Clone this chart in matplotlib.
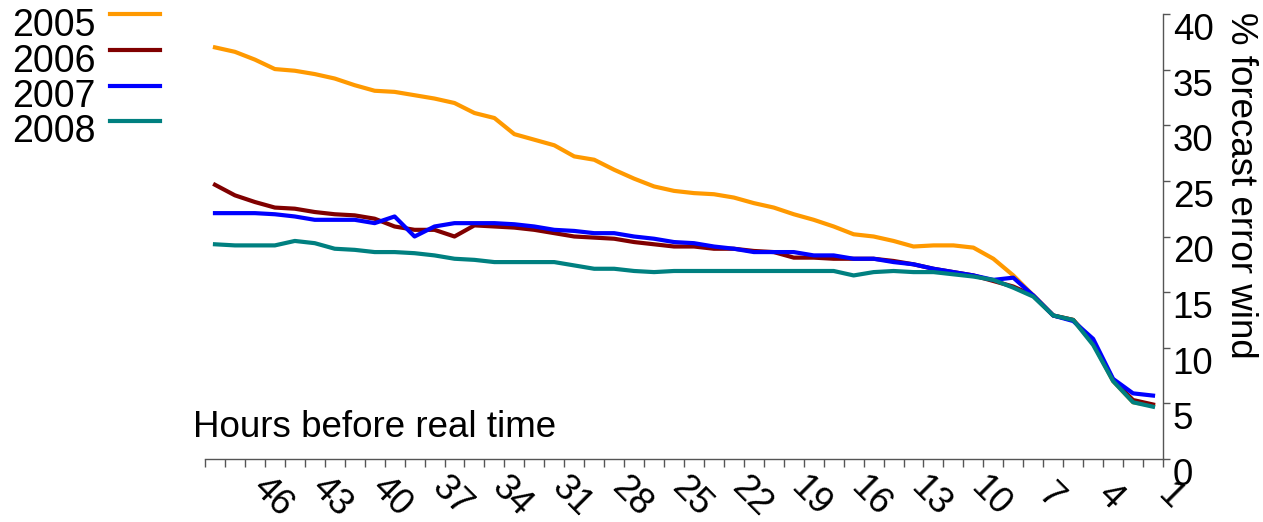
import numpy as np
import matplotlib.pyplot as plt
import matplotlib.transforms as mtransforms
from matplotlib.lines import Line2D

plt.rcParams['font.family'] = ['Liberation Sans', 'DejaVu Sans']

# hours before real time, left to right
hours = list(range(48, 0, -1))
label_hours = list(range(46, 0, -3))

err_2005 = [37.0, 36.6, 35.9, 35.05, 34.9, 34.6, 34.2, 33.6, 33.1, 33.0,
            32.7, 32.4, 32.0, 31.1, 30.65, 29.2, 28.7, 28.2, 27.2, 26.9,
            26.0, 25.2, 24.5, 24.1, 23.9, 23.8, 23.5, 23.0, 22.6, 22.0,
            21.5, 20.9, 20.2, 20.0, 19.6, 19.1, 19.2, 19.2, 19.0, 18.0,
            16.5, 14.7, 12.9, 12.5, 10.4, 7.0, 5.1, 4.8]
err_2006 = [24.65, 23.7, 23.1, 22.6, 22.5, 22.2, 22.0, 21.9, 21.6, 20.9,
            20.6, 20.6, 20.0, 21.0, 20.9, 20.8, 20.6, 20.3, 20.0, 19.9,
            19.8, 19.5, 19.3, 19.1, 19.1, 18.9, 18.9, 18.7, 18.6, 18.1,
            18.1, 18.0, 18.0, 18.0, 17.8, 17.5, 17.1, 16.8, 16.5, 16.0,
            15.5, 14.7, 12.9, 12.5, 10.5, 7.1, 5.3, 4.9]
err_2007 = [22.1, 22.1, 22.1, 22.0, 21.8, 21.5, 21.5, 21.5, 21.2, 21.8,
            20.0, 20.9, 21.2, 21.2, 21.2, 21.1, 20.9, 20.6, 20.5, 20.3,
            20.3, 20.0, 19.8, 19.5, 19.4, 19.1, 18.9, 18.6, 18.6, 18.6,
            18.3, 18.3, 18.0, 18.0, 17.7, 17.5, 17.1, 16.8, 16.5, 16.1,
            16.3, 14.7, 12.9, 12.4, 10.8, 7.2, 5.9, 5.7]
err_2008 = [19.3, 19.2, 19.2, 19.2, 19.6, 19.4, 18.9, 18.8, 18.6, 18.6,
            18.5, 18.3, 18.0, 17.9, 17.7, 17.7, 17.7, 17.7, 17.4, 17.1,
            17.1, 16.9, 16.8, 16.9, 16.9, 16.9, 16.9, 16.9, 16.9, 16.9,
            16.9, 16.9, 16.5, 16.8, 16.9, 16.8, 16.8, 16.6, 16.4, 16.1,
            15.4, 14.6, 12.9, 12.5, 10.25, 7.0, 5.1, 4.7]

years = ['2005', '2006', '2007', '2008']
series = [err_2005, err_2006, err_2007, err_2008]
colors = ['#FF9900', '#800000', '#0000FF', '#008080']

FS = 26.5
AXIS_COLOR = '#555555'
W, H = 1263, 522
fig = plt.figure(figsize=(W / 100, H / 100), dpi=100)
ax = fig.add_axes([205 / W, 63 / H, 958 / W, 445 / H])

x = np.arange(len(hours))
for vals, col in zip(series, colors):
    ax.plot(x, vals, color=col, lw=3)

ax.set_xlim(-0.5, len(hours) - 0.5)
ax.set_ylim(0, 40)

# tick marks between categories, labels on every third hour
ax.set_xticks(np.arange(-0.5, len(hours)))
ax.set_xticklabels([])
ax.set_xticks([hours.index(h) for h in label_hours], minor=True)
ax.set_xticklabels([str(h) for h in label_hours], minor=True, rotation=-45,
                   ha='center', va='center', rotation_mode='anchor', fontsize=FS)
ax.tick_params(axis='x', which='major', length=6, width=1, direction='out',
               color=AXIS_COLOR)
ax.tick_params(axis='x', which='minor', length=0, pad=27)
shift = mtransforms.ScaledTranslation(0.17, 0, fig.dpi_scale_trans)
for lab in ax.get_xticklabels(minor=True):
    lab.set_transform(lab.get_transform() + shift)

ax.yaxis.tick_right()
ax.set_yticks(range(0, 41, 5))
ax.tick_params(axis='y', length=5, width=1, direction='out', pad=2,
               labelsize=FS, color=AXIS_COLOR)
# y labels hang just below their tick marks
drop = mtransforms.ScaledTranslation(0, -0.125, fig.dpi_scale_trans)
for lab in ax.get_yticklabels():
    lab.set_transform(lab.get_transform() + drop)

ax.spines[['left', 'top']].set_visible(False)
for s in ['right', 'bottom']:
    ax.spines[s].set_linewidth(1)
    ax.spines[s].set_color(AXIS_COLOR)

fig.text(193 / W, 1 - 437 / H, 'Hours before real time', fontsize=FS, va='baseline')
fig.text(1258 / W, 1 - 12 / H, '% forecast error wind', fontsize=FS,
         rotation=-90, ha='right', va='top')

# legend: labels on the left, line samples on the right
text_base = [36, 72, 107, 142]
line_y = [14, 50, 86, 121]
for yr, col, tb, ly in zip(years, colors, text_base, line_y):
    fig.text(12 / W, 1 - tb / H, yr, fontsize=27, va='baseline')
    fig.add_artist(Line2D([110 / W, 160 / W], [1 - ly / H, 1 - ly / H],
                          transform=fig.transFigure, color=col, lw=3))

fig.savefig('out.png', dpi=100)
